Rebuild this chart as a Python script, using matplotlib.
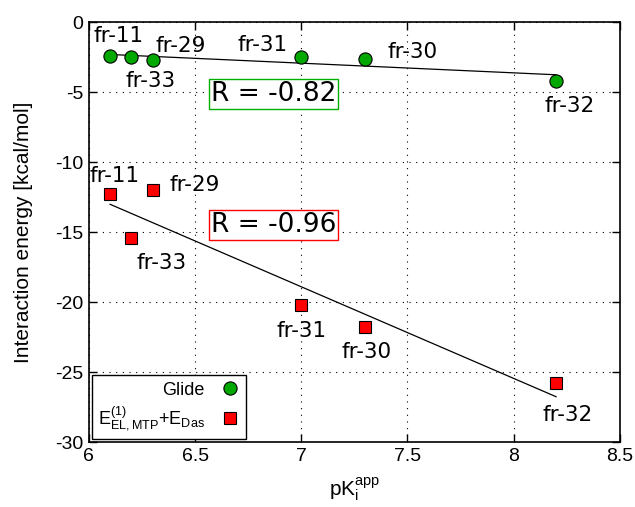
import numpy as np
import matplotlib.pyplot as plt

# pKi^app values and interaction energies (kcal/mol)
names = ["fr-11", "fr-33", "fr-29", "fr-31", "fr-30", "fr-32"]
pki = [6.1, 6.2, 6.3, 7.0, 7.3, 8.2]
glide = [-2.4, -2.5, -2.7, -2.5, -2.6, -4.2]
eel = [-12.3, -15.4, -12.0, -20.2, -21.8, -25.8]

# label offsets in points (relative to the marker)
glide_off = [(6, 14), (14, -17), (20, 10), (-28, 9), (34, 5), (10, -18)]
eel_off = [(3, 13), (22, -18), (30, 4), (0, -19), (1, -18), (8, -23)]

plt.rcParams["font.family"] = ["Liberation Sans", "DejaVu Sans"]
plt.rcParams["mathtext.fontset"] = "custom"
plt.rcParams["mathtext.rm"] = "Liberation Sans"
plt.rcParams["mathtext.it"] = "Liberation Sans"

fig = plt.figure(figsize=(6.35, 5.07), dpi=100)
ax = fig.add_axes([0.140, 0.128, 0.836, 0.828])

x = np.array(pki)
for vals in (glide, eel):
    k, b = np.polyfit(x, vals, 1)
    xs = np.array([x.min(), x.max()])
    ax.plot(xs, k * xs + b, color="black", lw=0.9, zorder=2)

ax.plot(pki, glide, "o", color="#00a800", mec="black", mew=0.8, ms=9.5,
        label="Glide", zorder=3)
ax.plot(pki, eel, "s", color="#ff0000", mec="black", mew=0.8, ms=8.5,
        label=r"E$^{(1)}_{\mathrm{EL,MTP}}$+E$_{\mathrm{Das}}$", zorder=3)

for n, xx, yy, off in zip(names, pki, glide, glide_off):
    ax.annotate(n, (xx, yy), xytext=off, textcoords="offset points",
                ha="center", va="center", fontsize=15.5, family="DejaVu Sans")
for n, xx, yy, off in zip(names, pki, eel, eel_off):
    ax.annotate(n, (xx, yy), xytext=off, textcoords="offset points",
                ha="center", va="center", fontsize=15.5, family="DejaVu Sans")

r1 = np.corrcoef(pki, glide)[0, 1]
r2 = np.corrcoef(pki, eel)[0, 1]
ax.text(6.87, -5.15, "R = %.2f" % r1, fontsize=19, family="DejaVu Sans",
        ha="center", va="center",
        bbox=dict(boxstyle="square,pad=0.08", fc="white", ec="#00b000", lw=1))
ax.text(6.87, -14.5, "R = %.2f" % r2, fontsize=19, family="DejaVu Sans",
        ha="center", va="center",
        bbox=dict(boxstyle="square,pad=0.08", fc="white", ec="#ff0000", lw=1))

ax.set_xlim(6, 8.5)
ax.set_ylim(-30, 0)
ax.set_xticks([6, 6.5, 7, 7.5, 8, 8.5])
ax.set_yticks([0, -5, -10, -15, -20, -25, -30])
ax.set_xticklabels(["6", "6.5", "7", "7.5", "8", "8.5"])
ax.set_yticklabels(["0", "-5", "-10", "-15", "-20", "-25", "-30"])
ax.tick_params(direction="in", top=True, right=True, length=6, width=1,
               labelsize=14, pad=4)
ax.grid(True, color="black", ls=(0, (1, 5)), lw=0.8)
for s in ax.spines.values():
    s.set_linewidth(1.2)

ax.set_xlabel(r"pK$_\mathrm{i}^\mathrm{app}$", fontsize=15, labelpad=8)
ax.set_ylabel("Interaction energy [kcal/mol]", fontsize=15, labelpad=16)

leg = ax.legend(loc="lower left", markerfirst=False, fontsize=13,
                fancybox=False, edgecolor="black", framealpha=1,
                borderaxespad=0.15, handlelength=1.0, handletextpad=0.9,
                borderpad=0.35, labelspacing=0.35)
leg.get_frame().set_linewidth(1.0)
leg.get_texts()[0].set_ha("center")
leg.get_texts()[1].set_ha("right")

fig.savefig("out.png", dpi=100)
